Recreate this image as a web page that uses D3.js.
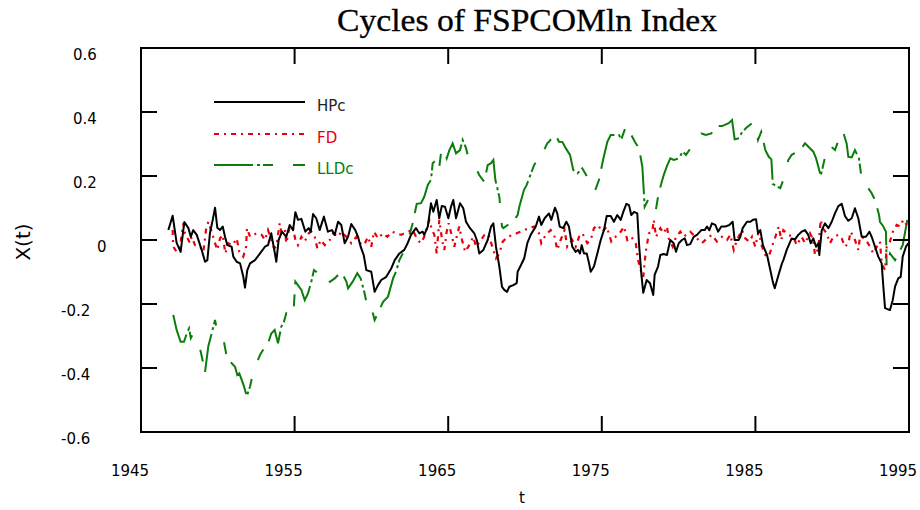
<!DOCTYPE html>
<html><head><meta charset="utf-8">
<script src="https://cdn.jsdelivr.net/npm/d3@7"></script>
<style>body{margin:0;background:#fff}svg{display:block}</style>
</head><body><svg id="c" width="920" height="510"></svg>
<script>
const title = "Cycles of FSPCOMln Index";
const xTicks = [1945,1955,1965,1975,1985,1995];
const yTicks = [-0.6,-0.4,-0.2,0,0.2,0.4,0.6];
const seriesNames = ["HPc","FD","LLDc"];

const hpYears = [1946.78,1947.06,1947.32,1947.58,1947.82,1948.08,1948.24,1948.40,1948.63,1948.95,1949.17,1949.32,1949.49,1949.67,1949.82,1949.97,1950.14,1950.32,1950.47,1950.62,1950.90,1951.01,1951.23,1951.45,1951.66,1951.77,1951.92,1952.10,1952.42,1952.75,1953.07,1953.27,1953.48,1953.70,1953.81,1953.96,1954.18,1954.46,1954.68,1954.90,1955.05,1955.22,1955.44,1955.70,1955.92,1956.05,1956.20,1956.41,1956.63,1956.91,1957.17,1957.43,1957.61,1957.83,1958.04,1958.26,1958.48,1958.69,1958.95,1959.13,1959.30,1959.50,1959.67,1959.99,1960.21,1960.43,1960.64,1960.97,1961.30,1961.52,1961.82,1962.14,1962.36,1962.58,1962.90,1963.12,1963.34,1963.44,1963.67,1963.88,1964.03,1964.25,1964.42,1964.58,1964.79,1965.01,1965.18,1965.33,1965.51,1965.77,1965.98,1966.16,1966.42,1966.70,1966.86,1967.02,1967.29,1967.57,1967.79,1967.94,1968.11,1968.33,1968.50,1968.65,1968.83,1968.98,1969.24,1969.46,1969.52,1969.74,1969.95,1970.15,1970.37,1970.70,1970.91,1971.06,1971.28,1971.56,1971.71,1971.95,1972.10,1972.26,1972.49,1972.69,1972.86,1973.08,1973.30,1973.45,1973.58,1973.69,1973.84,1974.02,1974.17,1974.28,1974.49,1974.71,1974.93,1975.14,1975.32,1975.58,1975.79,1976.01,1976.23,1976.40,1976.60,1976.77,1976.92,1977.10,1977.31,1977.42,1977.57,1977.70,1977.92,1978.14,1978.35,1978.44,1978.66,1978.81,1979.03,1979.24,1979.46,1979.68,1979.83,1980.01,1980.22,1980.40,1980.55,1980.76,1980.98,1981.20,1981.48,1981.70,1981.85,1982.00,1982.17,1982.39,1982.57,1982.78,1983.04,1983.30,1983.52,1983.65,1983.91,1984.02,1984.17,1984.45,1984.67,1984.84,1985.04,1985.17,1985.32,1985.49,1985.76,1985.97,1986.13,1986.26,1986.47,1986.73,1986.82,1987.04,1987.36,1987.58,1987.79,1988.01,1988.23,1988.44,1988.60,1988.77,1988.95,1989.10,1989.16,1989.32,1989.53,1989.75,1989.97,1990.18,1990.40,1990.62,1990.83,1991.05,1991.27,1991.48,1991.70,1991.92,1992.20,1992.42,1992.57,1992.79,1993.00,1993.22,1993.33,1993.44,1993.76,1993.94,1994.09,1994.30,1994.46,1994.59,1994.80,1994.95];
const hpVals = [0.031,0.076,-0.009,-0.037,0.056,0.038,0.010,0.031,0.016,-0.031,-0.068,-0.063,0.022,0.063,0.101,0.038,0.031,0.042,0.010,-0.016,-0.021,-0.052,-0.068,-0.073,-0.115,-0.149,-0.094,-0.073,-0.063,-0.042,-0.021,-0.016,0.021,-0.037,-0.068,0.000,0.026,0.010,0.047,0.031,0.087,0.063,0.066,0.026,0.037,0.026,0.081,0.068,0.031,0.073,0.026,0.031,0.016,0.057,0.047,-0.010,0.010,0.050,0.031,0.010,-0.021,-0.047,-0.094,-0.099,-0.162,-0.141,-0.125,-0.115,-0.088,-0.063,-0.042,-0.031,-0.010,0.016,0.037,0.021,0.026,0.016,0.042,0.115,0.088,0.125,0.068,0.106,0.104,0.068,0.104,0.125,0.068,0.115,0.099,0.057,0.037,0.021,0.000,-0.042,-0.031,0.000,0.042,0.052,-0.021,-0.083,-0.146,-0.156,-0.162,-0.146,-0.141,-0.135,-0.099,-0.078,-0.057,-0.010,0.016,0.042,0.073,0.047,0.068,0.083,0.063,0.101,0.083,0.042,0.037,0.057,0.042,-0.021,-0.037,-0.031,-0.042,-0.016,-0.042,-0.042,-0.073,-0.099,-0.083,-0.042,0.000,0.031,0.075,0.075,0.057,0.078,0.063,0.088,0.113,0.109,0.078,0.088,0.083,-0.010,-0.104,-0.165,-0.125,-0.135,-0.172,-0.109,-0.083,-0.047,-0.044,-0.047,0.000,-0.010,-0.037,-0.010,0.000,0.005,-0.016,-0.013,0.010,0.016,0.031,0.031,0.042,0.031,0.052,0.047,0.026,0.042,0.042,0.047,0.057,0.000,0.000,0.010,0.037,0.057,0.057,0.063,0.065,0.021,0.031,-0.016,-0.047,-0.094,-0.130,-0.151,-0.115,-0.073,-0.063,-0.031,0.005,0.002,0.016,0.026,0.031,0.016,-0.010,0.005,-0.021,-0.010,-0.047,0.031,0.052,0.037,0.057,0.083,0.106,0.113,0.075,0.060,0.068,0.099,0.068,0.010,0.010,0.026,0.010,-0.021,-0.052,-0.073,-0.146,-0.213,-0.219,-0.188,-0.146,-0.120,-0.115,-0.052,-0.021,-0.010];

const fdYears = [1947.06,1947.10,1947.32,1947.54,1947.75,1947.86,1948.19,1948.30,1948.52,1948.84,1949.06,1949.23,1949.38,1949.60,1949.82,1949.97,1950.14,1950.32,1950.49,1950.68,1950.97,1951.23,1951.40,1951.66,1951.84,1951.90,1952.10,1952.53,1952.86,1953.07,1953.27,1953.66,1953.81,1954.03,1954.13,1954.36,1954.46,1954.68,1954.90,1955.05,1955.22,1955.44,1955.66,1955.92,1956.09,1956.31,1956.48,1956.70,1956.96,1957.29,1957.50,1957.83,1958.04,1958.37,1958.69,1959.02,1959.24,1959.52,1959.78,1959.99,1960.17,1960.43,1960.76,1961.04,1961.34,1961.62,1961.93,1962.36,1962.69,1963.01,1963.23,1963.44,1963.77,1963.95,1964.10,1964.25,1964.42,1964.60,1964.75,1964.90,1965.03,1965.25,1965.40,1965.55,1965.72,1965.90,1966.11,1966.37,1966.63,1966.81,1967.14,1967.42,1967.68,1967.90,1968.11,1968.33,1968.55,1968.87,1969.20,1969.46,1969.95,1970.26,1970.59,1970.91,1971.06,1971.35,1971.67,1971.93,1972.10,1972.32,1972.58,1972.75,1973.08,1973.30,1973.52,1973.73,1974.06,1974.28,1974.49,1974.75,1975.03,1975.32,1975.62,1975.90,1976.23,1976.45,1976.66,1976.92,1977.21,1977.36,1977.53,1977.70,1977.86,1978.07,1978.29,1978.38,1978.53,1978.81,1979.03,1979.24,1979.36,1979.62,1979.83,1980.11,1980.33,1980.76,1981.09,1981.52,1981.85,1982.17,1982.50,1982.83,1983.15,1983.37,1983.59,1983.80,1984.13,1984.34,1984.60,1984.78,1984.99,1985.21,1985.43,1985.65,1985.87,1986.08,1986.30,1986.52,1986.69,1986.82,1987.15,1987.47,1987.69,1988.01,1988.23,1988.55,1988.77,1988.88,1989.10,1989.25,1989.38,1989.64,1989.86,1990.07,1990.40,1990.62,1990.83,1991.05,1991.20,1991.48,1991.70,1991.81,1992.14,1992.46,1992.68,1992.90,1993.11,1993.22,1993.44,1993.55,1993.76,1993.98,1994.20,1994.41,1994.63,1994.85];
const fdVals = [0.031,-0.021,-0.037,-0.021,0.052,0.021,-0.010,0.010,-0.016,-0.021,-0.037,0.031,0.057,0.026,-0.010,-0.031,0.005,0.016,-0.042,-0.010,-0.016,0.005,-0.037,-0.052,-0.021,0.037,0.010,0.021,0.016,0.000,0.031,-0.026,-0.021,0.052,0.026,0.037,-0.010,0.042,0.037,0.000,-0.016,0.010,-0.005,0.021,0.026,0.010,-0.026,0.000,-0.016,0.000,0.021,0.010,0.026,0.010,-0.010,0.010,-0.010,-0.016,0.010,-0.021,0.026,0.005,0.021,0.010,0.026,0.021,0.016,0.026,0.031,0.000,-0.010,0.010,0.063,0.031,0.016,-0.042,0.063,0.000,-0.031,0.026,0.052,0.010,-0.021,0.010,0.042,0.000,-0.037,-0.016,0.010,-0.021,0.000,0.021,0.010,-0.026,-0.057,-0.042,-0.005,0.010,0.016,0.021,0.031,0.037,0.042,0.021,-0.010,0.016,0.031,0.010,-0.031,0.000,0.031,-0.021,0.000,-0.021,0.010,0.021,-0.010,0.000,0.037,0.047,0.026,0.042,-0.005,0.010,0.026,0.042,0.000,0.010,-0.010,-0.063,-0.094,-0.115,-0.037,0.021,0.026,0.063,0.010,0.037,0.021,0.042,0.005,-0.021,0.010,0.026,0.010,0.026,0.010,-0.010,0.005,0.016,-0.005,0.010,0.000,0.016,-0.031,0.000,0.031,0.005,-0.005,0.010,-0.021,0.026,-0.021,-0.047,-0.052,-0.021,0.010,0.042,0.000,0.031,0.016,0.010,-0.016,0.010,-0.010,0.021,0.000,-0.047,-0.026,0.063,0.037,0.021,-0.010,0.010,0.016,0.005,-0.021,-0.010,0.026,0.000,-0.031,0.010,0.005,-0.021,-0.042,-0.021,-0.005,-0.073,-0.094,-0.021,-0.005,0.031,0.047,0.042,0.063,0.047];

const lldYears = [1947.10,1947.32,1947.58,1947.80,1947.98,1948.13,1948.24,1948.40,1948.63,1948.89,1949.17,1949.38,1949.60,1949.82,1949.97,1950.14,1950.40,1950.58,1950.75,1950.90,1951.12,1951.27,1951.40,1951.56,1951.71,1951.88,1952.10,1952.31,1952.53,1952.75,1953.07,1953.27,1953.48,1953.70,1953.92,1954.13,1954.31,1954.46,1954.68,1954.90,1955.01,1955.05,1955.44,1955.66,1955.87,1956.09,1956.26,1956.52,1956.78,1956.96,1957.30,1957.61,1957.83,1958.04,1958.37,1958.48,1958.77,1959.08,1959.30,1959.56,1959.73,1959.89,1960.04,1960.21,1960.46,1960.76,1961.08,1961.41,1961.60,1961.82,1962.04,1962.35,1962.69,1962.95,1963.23,1963.44,1963.67,1963.88,1963.99,1964.21,1964.38,1964.53,1964.75,1964.90,1965.08,1965.29,1965.51,1965.77,1965.94,1966.16,1966.33,1966.61,1966.92,1967.02,1967.35,1967.57,1967.79,1967.94,1968.07,1968.33,1968.50,1968.59,1968.87,1969.20,1969.52,1969.63,1969.93,1970.11,1970.59,1970.80,1970.98,1971.19,1971.45,1971.56,1971.79,1972.00,1972.21,1972.44,1972.65,1972.93,1973.14,1973.41,1973.73,1974.02,1974.28,1974.54,1974.82,1975.08,1975.36,1975.58,1976.12,1976.27,1976.56,1976.77,1976.92,1977.16,1977.42,1977.64,1977.79,1978.01,1978.22,1978.48,1978.70,1979.03,1979.24,1979.46,1979.68,1980.01,1980.27,1980.48,1980.70,1980.92,1981.20,1981.48,1981.78,1982.13,1982.44,1982.83,1983.26,1983.48,1983.65,1983.95,1984.08,1984.39,1984.78,1984.95,1985.17,1985.38,1985.65,1985.87,1986.04,1986.13,1986.62,1986.82,1987.04,1987.14,1987.36,1987.71,1988.08,1988.23,1988.77,1988.95,1989.10,1989.25,1989.64,1989.75,1990.18,1990.46,1990.77,1990.94,1991.05,1991.27,1991.48,1991.74,1991.86,1991.92,1992.35,1992.57,1992.79,1993.05,1993.11,1993.31,1993.50,1993.55,1993.76,1994.09,1994.59,1994.89];
const lldVals = [-0.234,-0.281,-0.318,-0.318,-0.292,-0.276,-0.307,-0.292,-0.313,-0.349,-0.412,-0.333,-0.292,-0.250,-0.287,-0.313,-0.318,-0.365,-0.370,-0.385,-0.396,-0.422,-0.417,-0.438,-0.458,-0.488,-0.458,-0.412,-0.385,-0.359,-0.333,-0.323,-0.292,-0.281,-0.323,-0.271,-0.255,-0.229,-0.234,-0.245,-0.162,-0.130,-0.156,-0.188,-0.167,-0.130,-0.094,-0.104,-0.120,-0.109,-0.131,-0.120,-0.109,-0.099,-0.130,-0.151,-0.131,-0.104,-0.120,-0.167,-0.208,-0.198,-0.219,-0.250,-0.225,-0.193,-0.177,-0.120,-0.099,-0.063,-0.042,-0.006,0.052,0.113,0.115,0.135,0.172,0.188,0.240,0.250,0.213,0.271,0.276,0.255,0.281,0.302,0.271,0.281,0.313,0.287,0.255,0.234,0.213,0.203,0.182,0.234,0.240,0.250,0.188,0.135,0.042,0.037,0.047,0.057,0.078,0.104,0.156,0.172,0.234,0.250,0.281,0.276,0.302,0.307,0.322,0.328,0.307,0.306,0.287,0.266,0.219,0.208,0.224,0.200,0.162,0.151,0.188,0.250,0.307,0.328,0.328,0.315,0.354,0.365,0.328,0.306,0.287,0.229,0.104,0.125,0.115,0.083,0.146,0.203,0.231,0.255,0.250,0.255,0.276,0.266,0.281,0.304,0.313,0.333,0.328,0.333,0.356,0.356,0.365,0.375,0.315,0.318,0.333,0.350,0.365,0.370,0.313,0.338,0.281,0.260,0.252,0.175,0.162,0.188,0.219,0.250,0.266,0.275,0.292,0.302,0.276,0.255,0.229,0.200,0.281,0.300,0.281,0.318,0.328,0.302,0.260,0.258,0.281,0.255,0.213,0.167,0.162,0.146,0.125,0.078,0.057,0.044,0.026,-0.094,-0.042,-0.063,-0.016,0.063];

const svg = d3.select("#c");
const L = 141, R = 909, T = 48, B = 432;
const x = d3.scaleLinear().domain([1945,1995]).range([L,R]);
const y = d3.scaleLinear().domain([-0.6,0.6]).range([B,T]);

svg.append("rect").attr("width",920).attr("height",510).attr("fill","#fff");

// title
svg.append("text").attr("x",527).attr("y",31).attr("text-anchor","middle")
  .attr("font-family","Liberation Serif").attr("font-size",31)
  .attr("textLength",380).attr("lengthAdjust","spacingAndGlyphs")
  .attr("fill","#000").attr("stroke","#000").attr("stroke-width",0.3).text(title);

svg.append("clipPath").attr("id","pc").append("rect")
  .attr("x",L).attr("y",T).attr("width",R-L).attr("height",B-T);

const plot = svg.append("g").attr("clip-path","url(#pc)");
const line = (ys, vs) => d3.line().x((d,i)=>x(ys[i])).y((d,i)=>y(vs[i]))(vs);

const styles = {
  HPc:{color:"#000000", dash:null, w:2},
  FD:{color:"#e8000b", dash:"5,5,2,5", w:2.2},
  LLDc:{color:"#0a7d0a", dash:"39,4,3,3,10,20,12,10", w:2}
};

plot.append("path").attr("d",line(lldYears,lldVals)).attr("fill","none")
  .attr("stroke",styles.LLDc.color).attr("stroke-width",styles.LLDc.w).attr("stroke-dasharray",styles.LLDc.dash);
plot.append("path").attr("d",line(fdYears,fdVals)).attr("fill","none")
  .attr("stroke",styles.FD.color).attr("stroke-width",styles.FD.w).attr("stroke-dasharray",styles.FD.dash);
plot.append("path").attr("d",line(hpYears,hpVals)).attr("fill","none")
  .attr("stroke",styles.HPc.color).attr("stroke-width",styles.HPc.w).attr("stroke-linejoin","round");

// frame
svg.append("rect").attr("x",L).attr("y",T).attr("width",R-L).attr("height",B-T)
  .attr("fill","none").attr("stroke","#000").attr("stroke-width",2);

// ticks
const tk = 16;
const g = svg.append("g").attr("stroke","#000").attr("stroke-width",2);
yTicks.filter(v=>v>-0.6 && v<0.6).forEach(v=>{
  g.append("line").attr("x1",L).attr("x2",L+tk).attr("y1",y(v)).attr("y2",y(v));
  g.append("line").attr("x1",R).attr("x2",R-tk).attr("y1",y(v)).attr("y2",y(v));
});
xTicks.filter(v=>v>1945 && v<1995).forEach(v=>{
  g.append("line").attr("x1",x(v)).attr("x2",x(v)).attr("y1",T).attr("y2",T+tk);
  g.append("line").attr("x1",x(v)).attr("x2",x(v)).attr("y1",B).attr("y2",B-tk);
});

// tick labels
const lf = "DejaVu Sans";
yTicks.forEach(v=>{
  const lx = v>0 ? 73 : (v<0 ? 61 : 97);
  svg.append("text").attr("x",lx).attr("y",y(v)+12).attr("font-family",lf).attr("font-size",15)
    .attr("fill","#000").text(v===0?"0":d3.format(".1f")(v).replace("−","-"));
});
xTicks.forEach(v=>{
  svg.append("text").attr("x",x(v)-11).attr("y",476).attr("text-anchor","middle")
    .attr("font-family",lf).attr("font-size",15).attr("fill","#000").text(v);
});
svg.append("text").attr("x",522).attr("y",503).attr("text-anchor","middle")
  .attr("font-family",lf).attr("font-size",15).attr("fill","#000").text("t");
svg.append("text").attr("transform","translate(30,242) rotate(-90)").attr("text-anchor","middle")
  .attr("font-family",lf).attr("font-size",20).attr("fill","#000").text("X(t)");

// legend
const legY = [102,134,165];
seriesNames.forEach((n,i)=>{
  const s = styles[n];
  svg.append("line").attr("x1",214).attr("x2",305).attr("y1",legY[i]).attr("y2",legY[i])
    .attr("stroke",s.color).attr("stroke-width",s.w).attr("stroke-dasharray",s.dash);
  svg.append("text").attr("x",317).attr("y",legY[i]+9).attr("font-family",lf).attr("font-size",15)
    .attr("fill",n==="HPc"?"#222":s.color).text(n);
});
</script></body></html>
